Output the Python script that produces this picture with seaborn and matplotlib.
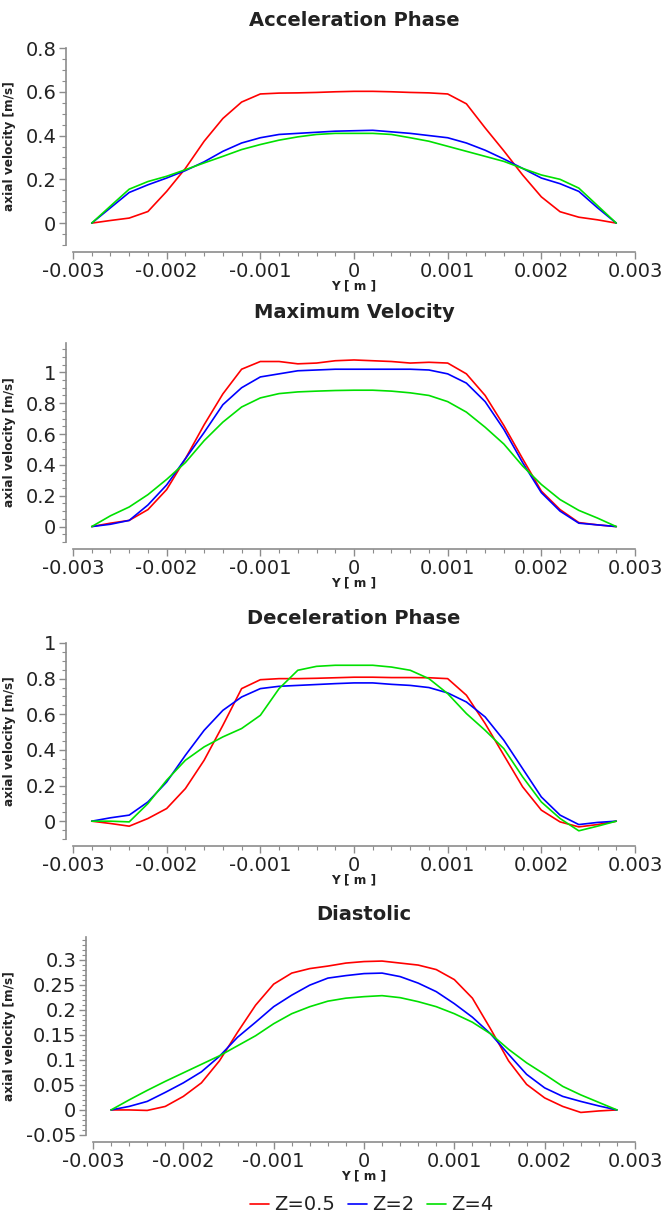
import numpy as np
import pandas as pd
import matplotlib
matplotlib.use("Agg")
import matplotlib.pyplot as plt
from matplotlib.ticker import MultipleLocator, FuncFormatter
import seaborn as sns

# ---------------- data ----------------
y_pos = [-0.0028, -0.0026, -0.0024, -0.0022, -0.0020, -0.0018, -0.0016, -0.0014,
         -0.0012, -0.0010, -0.0008, -0.0006, -0.0004, -0.0002, 0.0,
         0.0002, 0.0004, 0.0006, 0.0008, 0.0010, 0.0012, 0.0014, 0.0016,
         0.0018, 0.0020, 0.0022, 0.0024, 0.0026, 0.0028]

series_names = ["Z=0.5", "Z=2", "Z=4"]
panel_titles = ["Acceleration Phase", "Maximum Velocity", "Deceleration Phase", "Diastolic"]

accel_z05 = [0, 0.012, 0.023, 0.053, 0.145, 0.25, 0.374, 0.478, 0.553, 0.59, 0.594, 0.595, 0.597, 0.6, 0.602,
             0.602, 0.6, 0.597, 0.595, 0.59, 0.545, 0.435, 0.33, 0.22, 0.12, 0.052, 0.027, 0.015, 0]
accel_z2 = [0, 0.07, 0.14, 0.175, 0.206, 0.24, 0.28, 0.328, 0.366, 0.39, 0.405, 0.41, 0.415, 0.42, 0.422,
            0.424, 0.417, 0.41, 0.4, 0.39, 0.366, 0.333, 0.293, 0.25, 0.206, 0.18, 0.145, 0.07, 0]
accel_z4 = [0, 0.078, 0.155, 0.19, 0.214, 0.244, 0.275, 0.305, 0.336, 0.359, 0.379, 0.394, 0.405, 0.41, 0.41,
            0.41, 0.405, 0.39, 0.374, 0.351, 0.328, 0.305, 0.282, 0.25, 0.22, 0.2, 0.16, 0.08, 0]

maxv_z05 = [0, 0.022, 0.04, 0.11, 0.24, 0.44, 0.66, 0.86, 1.02, 1.07, 1.07, 1.055, 1.06, 1.075, 1.08,
            1.075, 1.07, 1.06, 1.065, 1.06, 0.99, 0.85, 0.655, 0.44, 0.23, 0.11, 0.026, 0.011, 0]
maxv_z2 = [0, 0.015, 0.04, 0.14, 0.27, 0.44, 0.61, 0.79, 0.9, 0.97, 0.99, 1.01, 1.015, 1.02, 1.02,
           1.02, 1.02, 1.02, 1.015, 0.99, 0.93, 0.81, 0.63, 0.415, 0.22, 0.1, 0.022, 0.011, 0]
maxv_z4 = [0, 0.07, 0.127, 0.207, 0.306, 0.415, 0.557, 0.677, 0.775, 0.834, 0.862, 0.873, 0.878, 0.882, 0.884,
           0.884, 0.878, 0.867, 0.85, 0.81, 0.742, 0.644, 0.535, 0.393, 0.273, 0.175, 0.105, 0.055, 0]

decel_z05 = [0, -0.013, -0.028, 0.015, 0.071, 0.183, 0.342, 0.538, 0.744, 0.794, 0.8, 0.8, 0.802, 0.805, 0.808,
             0.808, 0.806, 0.806, 0.805, 0.8, 0.707, 0.548, 0.37, 0.193, 0.062, -0.004, -0.032, -0.019, 0]
decel_z2 = [0, 0.019, 0.034, 0.108, 0.22, 0.37, 0.51, 0.622, 0.697, 0.744, 0.757, 0.762, 0.767, 0.772, 0.776,
            0.776, 0.768, 0.762, 0.75, 0.72, 0.669, 0.585, 0.454, 0.295, 0.136, 0.034, -0.019, -0.007, 0]
decel_z4 = [0, 0, -0.004, 0.099, 0.23, 0.342, 0.417, 0.473, 0.52, 0.594, 0.744, 0.847, 0.869, 0.875, 0.875,
            0.875, 0.865, 0.847, 0.8, 0.716, 0.604, 0.51, 0.407, 0.249, 0.108, 0.015, -0.054, -0.028, 0]

diast_z05 = [0, 0, -0.001, 0.007, 0.027, 0.054, 0.098, 0.155, 0.209, 0.251, 0.273, 0.282, 0.287, 0.293, 0.296,
             0.297, 0.293, 0.289, 0.28, 0.26, 0.223, 0.162, 0.098, 0.051, 0.024, 0.007, -0.005, -0.002, 0]
diast_z2 = [0, 0.007, 0.017, 0.035, 0.054, 0.076, 0.107, 0.145, 0.175, 0.206, 0.229, 0.249, 0.263, 0.268, 0.272,
            0.273, 0.266, 0.253, 0.236, 0.212, 0.185, 0.152, 0.111, 0.071, 0.044, 0.027, 0.017, 0.008, 0]
diast_z4 = [0, 0.02, 0.039, 0.057, 0.074, 0.091, 0.108, 0.128, 0.148, 0.172, 0.192, 0.206, 0.217, 0.223, 0.226,
            0.228, 0.224, 0.216, 0.206, 0.192, 0.175, 0.152, 0.121, 0.094, 0.071, 0.047, 0.03, 0.015, 0]

panels_data = [
    [accel_z05, accel_z2, accel_z4],
    [maxv_z05, maxv_z2, maxv_z4],
    [decel_z05, decel_z2, decel_z4],
    [diast_z05, diast_z2, diast_z4],
]

y_limits = [(-0.1, 0.8), (-0.1, 1.19), (-0.1, 1.0), (-0.05, 0.345)]
y_major = [0.2, 0.2, 0.2, 0.05]
y_minor = [0.05, 0.05, 0.05, 0.01]

# ---------------- style ----------------
sns.set_style("ticks")
plt.rcParams["font.family"] = ["DejaVu Sans"]
plt.rcParams["axes.unicode_minus"] = False

palette = {"Z=0.5": "#ff0000", "Z=2": "#0000ff", "Z=4": "#00e000"}
spine_col = "#8c8c8c"
text_col = "#222222"

W, H = 664, 1216
fig = plt.figure(figsize=(W / 100, H / 100), dpi=100)

# pixel boxes: left, right, top, bottom
boxes = [(73, 635, 48, 245), (73, 635, 343, 542), (73, 635, 643, 839), (93, 635, 937, 1135)]
title_pads = [16, 18, 14, 12]

fmt = FuncFormatter(lambda v, p: ("%g" % round(v, 6)))

axes = []
for i, (l, r, t, b) in enumerate(boxes):
    ax = fig.add_axes([l / W, 1 - b / H, (r - l) / W, (b - t) / H])
    rows = []
    for name, vals in zip(series_names, panels_data[i]):
        for xv, yv in zip(y_pos, vals):
            rows.append({"Y": xv, "v": yv, "Z": name})
    df = pd.DataFrame(rows)
    sns.lineplot(data=df, x="Y", y="v", hue="Z", palette=palette, ax=ax,
                 linewidth=1.2, legend=(i == 3), sort=False)
    ax.set_xlim(-0.003, 0.003)
    ax.set_ylim(*y_limits[i])
    ax.xaxis.set_major_locator(MultipleLocator(0.001))
    ax.xaxis.set_minor_locator(MultipleLocator(0.0002))
    ax.yaxis.set_major_locator(MultipleLocator(y_major[i]))
    ax.yaxis.set_minor_locator(MultipleLocator(y_minor[i]))
    ax.xaxis.set_major_formatter(fmt)
    ax.yaxis.set_major_formatter(fmt)
    ax.tick_params(which="major", length=5, width=1, color=spine_col, labelsize=14,
                   labelcolor=text_col, pad=2)
    ax.tick_params(which="minor", length=3, width=0.8, color=spine_col)
    sns.despine(ax=ax, offset=5)
    for s in ("left", "bottom"):
        ax.spines[s].set_color(spine_col)
        ax.spines[s].set_linewidth(1.2)
    ax.set_title(panel_titles[i], fontsize=14, fontweight="bold", color=text_col, pad=title_pads[i])
    ax.set_ylabel("axial velocity [m/s]", fontsize=8.7, fontweight="bold", color=text_col)
    ax.yaxis.set_label_coords((16 - l) / (r - l), 0.5)
    ax.set_xlabel("Y [ m ]", fontsize=8.7, fontweight="bold", color=text_col)
    ax.xaxis.set_label_coords(0.5, -(279 - 245) / (b - t))
    axes.append(ax)

# legend at bottom
handles, labels = axes[3].get_legend_handles_labels()
axes[3].get_legend().remove()
fig.legend(handles, labels, loc="center", bbox_to_anchor=(372 / W, 1 - 1205 / H), ncol=3,
           frameon=False, fontsize=14, handlelength=0.95, handletextpad=0.3,
           columnspacing=0.65, labelcolor=text_col)

fig.savefig("out.png", dpi=100)
